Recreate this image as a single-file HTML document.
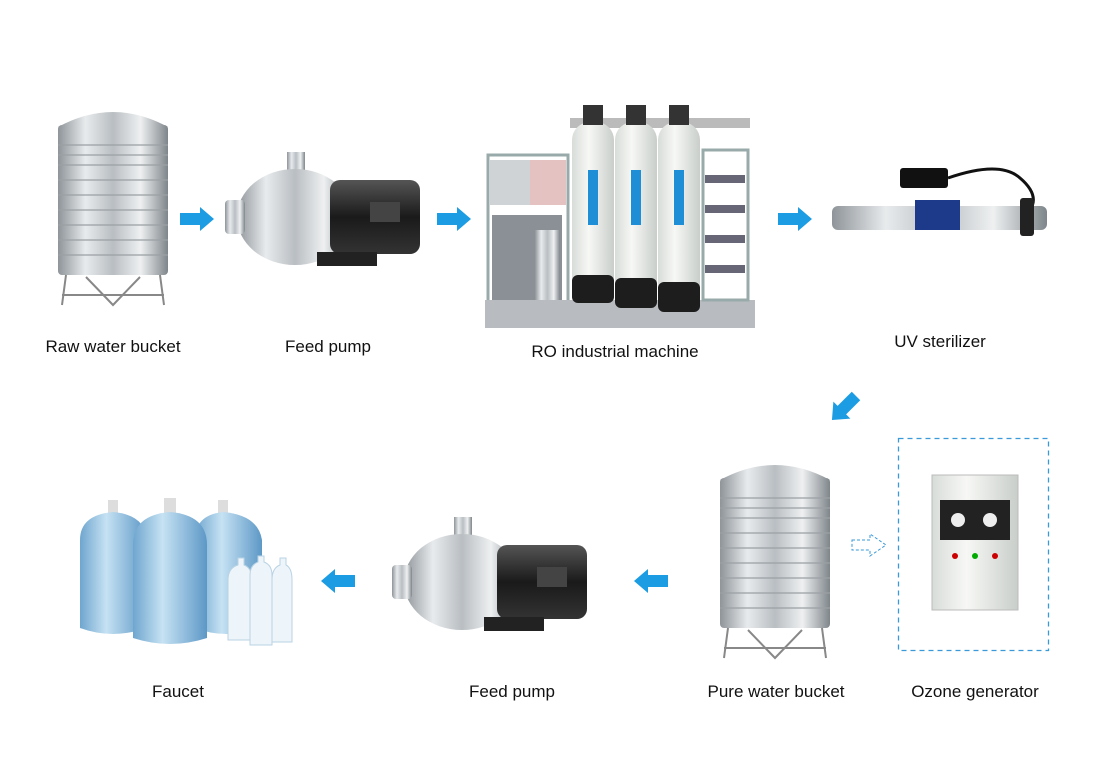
<!DOCTYPE html>
<html><head><meta charset="utf-8"><style>
html,body{margin:0;padding:0;background:#fff;}
#c{position:relative;width:1120px;height:781px;overflow:hidden;background:#fff;font-family:"Liberation Sans",Arial,sans-serif;}
.l{position:absolute;font-size:17px;color:#111;white-space:nowrap;transform:translateX(-50%);}
svg{position:absolute;left:0;top:0;}
</style></head><body><div id="c">
<svg width="1120" height="781" viewBox="0 0 1120 781">
<defs>
<linearGradient id="steel" x1="0" x2="1">
<stop offset="0" stop-color="#8e9499"/><stop offset="0.25" stop-color="#e8ebed"/><stop offset="0.5" stop-color="#b9bec2"/><stop offset="0.75" stop-color="#eef0f1"/><stop offset="1" stop-color="#7f868b"/></linearGradient>
<linearGradient id="white" x1="0" x2="1"><stop offset="0" stop-color="#d8dcd8"/><stop offset="0.4" stop-color="#f7f8f5"/><stop offset="1" stop-color="#c9ceca"/></linearGradient>
<linearGradient id="blue" x1="0" x2="1"><stop offset="0" stop-color="#6fa6cf"/><stop offset="0.4" stop-color="#c6e2f3"/><stop offset="1" stop-color="#5d98c6"/></linearGradient>
<linearGradient id="black" x1="0" x2="0" y1="0" y2="1"><stop offset="0" stop-color="#555"/><stop offset="0.5" stop-color="#1a1a1a"/><stop offset="1" stop-color="#333"/></linearGradient>
<g id="tank">
<path d="M2 22 Q57 -8 112 22 Z" fill="url(#steel)"/>
<rect x="2" y="20" width="110" height="150" rx="4" fill="url(#steel)"/>
<g stroke="#9aa0a4" stroke-width="1.2">
<line x1="2" y1="40" x2="112" y2="40"/><line x1="2" y1="50" x2="112" y2="50"/><line x1="2" y1="60" x2="112" y2="60"/><line x1="2" y1="75" x2="112" y2="75"/><line x1="2" y1="90" x2="112" y2="90"/><line x1="2" y1="105" x2="112" y2="105"/><line x1="2" y1="120" x2="112" y2="120"/><line x1="2" y1="135" x2="112" y2="135"/><line x1="2" y1="150" x2="112" y2="150"/></g>
<g stroke="#888" stroke-width="2" fill="none"><path d="M10 170 L6 200 M104 170 L108 200 M30 172 L57 200 L84 172 M6 190 H108"/></g>
</g>
<g id="pump">
<rect x="62" y="0" width="18" height="22" fill="url(#steel)"/>
<ellipse cx="70" cy="65" rx="58" ry="48" fill="url(#steel)"/>
<rect x="0" y="48" width="20" height="34" rx="4" fill="url(#steel)"/>
<rect x="105" y="28" width="90" height="74" rx="10" fill="url(#black)"/>
<rect x="92" y="100" width="60" height="14" fill="#222"/>
<rect x="145" y="50" width="30" height="20" fill="#444"/>
</g>
<g id="arrow"><path d="M0 -6 H20 V-12 L34 0 L20 12 V6 H0 Z" fill="#1c9ce2"/></g>
</defs>

<!-- top row -->
<use href="#tank" x="56" y="105"/>
<use href="#arrow" x="180" y="219"/>
<use href="#pump" x="225" y="152"/>
<use href="#arrow" x="437" y="219"/>

<!-- RO machine -->
<g>
<rect x="488" y="155" width="80" height="160" fill="none" stroke="#9aa" stroke-width="3"/>
<rect x="490" y="160" width="76" height="45" fill="#cfd3d6"/>
<rect x="530" y="160" width="36" height="45" fill="#e4c2c2"/>
<rect x="485" y="300" width="270" height="28" fill="#b8bcc0"/>
<rect x="492" y="215" width="70" height="85" fill="#8a9096"/>
<rect x="535" y="230" width="25" height="70" fill="url(#steel)"/>
<rect x="570" y="118" width="180" height="10" fill="#bbb"/>
<rect x="703" y="150" width="45" height="150" fill="none" stroke="#9aa" stroke-width="3"/>
<g fill="#667"><rect x="705" y="175" width="40" height="8"/><rect x="705" y="205" width="40" height="8"/><rect x="705" y="235" width="40" height="8"/><rect x="705" y="265" width="40" height="8"/></g>
<rect x="572" y="122" width="42" height="180" rx="18" fill="url(#white)"/>
<rect x="572" y="275" width="42" height="28" rx="6" fill="#1d1d1d"/>
<rect x="615" y="122" width="42" height="185" rx="18" fill="url(#white)"/>
<rect x="615" y="278" width="42" height="30" rx="6" fill="#1d1d1d"/>
<rect x="658" y="122" width="42" height="190" rx="18" fill="url(#white)"/>
<rect x="658" y="282" width="42" height="30" rx="6" fill="#1d1d1d"/>
<g fill="#333"><rect x="583" y="105" width="20" height="20"/><rect x="626" y="105" width="20" height="20"/><rect x="669" y="105" width="20" height="20"/></g>
<g fill="#1e8ed6"><rect x="588" y="170" width="10" height="55"/><rect x="631" y="170" width="10" height="55"/><rect x="674" y="170" width="10" height="55"/></g>
</g>
<use href="#arrow" x="778" y="219"/>

<!-- UV -->
<rect x="900" y="168" width="48" height="20" rx="3" fill="#111"/>
<path d="M948 178 Q1000 160 1020 178 Q1040 195 1030 210" stroke="#111" stroke-width="3" fill="none"/>
<rect x="832" y="206" width="215" height="24" rx="6" fill="url(#steel)"/>
<rect x="915" y="200" width="45" height="30" fill="#1d3a8a"/>
<rect x="1020" y="198" width="14" height="38" rx="3" fill="#222"/>

<!-- diagonal arrow -->
<g transform="translate(856 396) rotate(135)"><use href="#arrow" x="0" y="0"/></g>

<!-- ozone -->
<rect x="898.5" y="438.5" width="150" height="212" fill="none" stroke="#3a9ad9" stroke-width="1.3" stroke-dasharray="5,4"/>
<rect x="932" y="475" width="86" height="135" fill="url(#white)" stroke="#bbb"/>
<rect x="940" y="500" width="70" height="40" fill="#222"/>
<circle cx="958" cy="520" r="7" fill="#eee"/><circle cx="990" cy="520" r="7" fill="#eee"/>
<circle cx="955" cy="556" r="3" fill="#c00"/><circle cx="975" cy="556" r="3" fill="#0a0"/><circle cx="995" cy="556" r="3" fill="#c00"/>
<path d="M852 540 H870 V534 L886 545 L870 556 V550 H852 Z" fill="none" stroke="#3a9ad9" stroke-dasharray="3,2"/>

<!-- bottom row -->
<use href="#tank" x="718" y="458"/>
<g transform="translate(668 581) scale(-1 1)"><use href="#arrow"/></g>
<use href="#pump" x="392" y="517"/>
<g transform="translate(355 581) scale(-1 1)"><use href="#arrow"/></g>

<!-- bottles -->
<g>
<rect x="108" y="500" width="10" height="14" fill="#ddd"/>
<path d="M80 540 Q80 515 113 512 Q146 515 146 540 V628 Q113 640 80 628 Z" fill="url(#blue)"/>
<rect x="218" y="500" width="10" height="14" fill="#ddd"/>
<path d="M195 540 Q195 515 223 512 Q258 515 262 540 V628 Q225 640 195 628 Z" fill="url(#blue)"/>
<rect x="164" y="498" width="12" height="16" fill="#ddd"/>
<path d="M133 545 Q133 515 170 512 Q207 515 207 545 V638 Q170 650 133 638 Z" fill="url(#blue)"/>
<path d="M228 580 Q228 568 238 565 V558 H244 V565 Q252 568 252 580 V640 H228 Z" fill="#eef5fa" stroke="#b9d3e4"/>
<path d="M250 575 Q250 565 258 562 V556 H264 V562 Q272 565 272 575 V645 H250 Z" fill="#eef5fa" stroke="#b9d3e4"/>
<path d="M272 580 Q272 568 280 565 V558 H286 V565 Q292 568 292 580 V642 H272 Z" fill="#eef5fa" stroke="#b9d3e4"/>
</g>
</svg>
<div class="l" style="left:113px;top:337px">Raw water bucket</div>
<div class="l" style="left:328px;top:337px">Feed pump</div>
<div class="l" style="left:615px;top:342px">RO industrial machine</div>
<div class="l" style="left:940px;top:332px">UV sterilizer</div>
<div class="l" style="left:178px;top:682px">Faucet</div>
<div class="l" style="left:512px;top:682px">Feed pump</div>
<div class="l" style="left:776px;top:682px">Pure water bucket</div>
<div class="l" style="left:975px;top:682px">Ozone generator</div>
</div></body></html>
